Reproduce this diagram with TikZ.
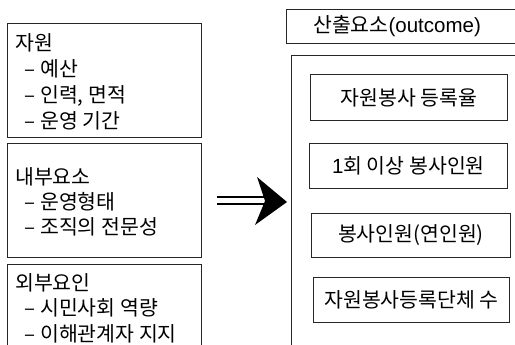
\documentclass[tikz,border=0pt]{standalone}
\usepackage{fontspec}
\setmainfont{Noto Sans CJK KR}
\newfontfamily\latinf{Liberation Sans}
\newcommand{\itemdash}{\hspace*{9pt}–\hspace{5pt}}
\begin{document}
\begin{tikzpicture}[x=1pt,y=-1pt,
  box/.style={draw=black!85,line width=0.9pt,anchor=north west,inner sep=0pt},
  txt/.style={font=\fontsize{20.5}{26}\selectfont,align=left,anchor=west,inner sep=0pt},
  ctxt/.style={font=\fontsize{20.5}{26}\selectfont,inner sep=0pt}]
\useasboundingbox (0,0) rectangle (515,345);
\clip (0,0) rectangle (515,345);
% left boxes
\node[box,minimum width=194pt,minimum height=114pt] (b1) at (7,23) {};
\node[box,minimum width=194pt,minimum height=114pt] (b2) at (7,143) {};
\node[box,minimum width=194pt,minimum height=100pt] (b3) at (7,264) {};
\node[txt] (t1) at (15,82) {자원\\\itemdash 예산\\\itemdash 인력, 면적\\\itemdash 운영 기간};
\node[txt,font=\fontsize{20.5}{25}\selectfont] (t2) at (15,202) {내부요소\\\itemdash 운영형태\\\itemdash 조직의 전문성};
\node[txt,font=\fontsize{20.5}{25.5}\selectfont] (t3) at (15,308) {외부요인\\\itemdash 시민사회 역량\\\itemdash 이해관계자 지지};
% right
\node[box,minimum width=240pt,minimum height=34pt] (hd) at (286,9) {};
\node[ctxt] (hdt) at (397,26) {산출요소{\latinf (outcome)}};
\node[box,minimum width=240pt,minimum height=300pt] (big) at (291,55) {};
\node[box,minimum width=197pt,minimum height=46pt] (oa) at (310,74) {};
\node[ctxt] at (oa.center) {자원봉사 등록율};
\node[box,minimum width=198pt,minimum height=45pt] (ob) at (309,143) {};
\node[ctxt] at (ob.center) {{\latinf 1}회 이상 봉사인원};
\node[box,minimum width=199pt,minimum height=44pt] (oc) at (311,213) {};
\node[ctxt] at (oc.center) {봉사인원(연인원)};
\node[box,minimum width=196pt,minimum height=45pt] (od) at (313,277) {};
\node[ctxt] at (od.center) {자원봉사등록단체 수};
% arrow
\coordinate (as) at (217,200.5);
\coordinate (an) at (264,200.5);
\coordinate (at) at (287,202);
\draw[line width=1.4pt] ([yshift=-3.5pt]as) -- ([yshift=-3.5pt]an);
\draw[line width=1.4pt] ([yshift=3.5pt]as) -- ([yshift=3.5pt]an);
\fill (at) -- (257,177) -- (265,201) -- (255,225) -- cycle;
\end{tikzpicture}
\end{document}
